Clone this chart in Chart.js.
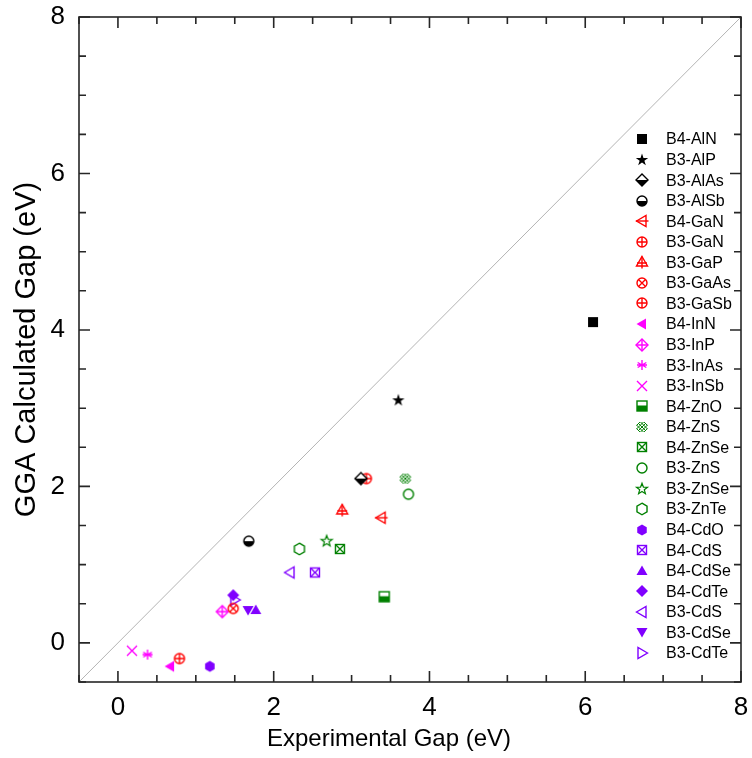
<!DOCTYPE html>
<html>
<head>
<meta charset="utf-8">
<script src="https://cdn.jsdelivr.net/npm/chart.js@4.4.0/dist/chart.umd.min.js"></script>
<style>
  html, body { margin: 0; padding: 0; background: #fff; }
</style>
</head>
<body>
<canvas id="gap-chart" width="752" height="758"></canvas>
<script>
// data
const compounds = ['B4-AlN', 'B3-AlP', 'B3-AlAs', 'B3-AlSb', 'B4-GaN', 'B3-GaN', 'B3-GaP', 'B3-GaAs', 'B3-GaSb',
  'B4-InN', 'B3-InP', 'B3-InAs', 'B3-InSb', 'B4-ZnO', 'B4-ZnS', 'B4-ZnSe', 'B3-ZnS', 'B3-ZnSe', 'B3-ZnTe',
  'B4-CdO', 'B4-CdS', 'B4-CdSe', 'B4-CdTe', 'B3-CdS', 'B3-CdSe', 'B3-CdTe']
const experimentalGap = [6.1, 3.6, 3.12, 1.68, 3.38, 3.19, 2.88, 1.48, 0.79,
  0.67, 1.34, 0.38, 0.18, 3.42, 3.69, 2.85, 3.73, 2.68, 2.33,
  1.18, 2.53, 1.77, 1.48, 2.21, 1.67, 1.5]
const ggaGap = [4.1, 3.1, 2.1, 1.3, 1.6, 2.1, 1.7, 0.44, -0.2,
  -0.3, 0.4, -0.15, -0.1, 0.59, 2.1, 1.2, 1.9, 1.3, 1.2,
  -0.3, 0.9, 0.42, 0.61, 0.9, 0.42, 0.55]
const diagonalLine = [-0.5, 8]
const majorTicks = [0, 2, 4, 6, 8]

// marker styles
const markerKinds = ['square', 'star', 'diamondHalf', 'circleHalf', 'triLeftLine', 'circlePlus', 'triUpPlus', 'circleX', 'circlePlus',
  'triLeft', 'diamondPlus', 'asterisk', 'cross', 'squareHalf', 'squareHatch', 'squareX', 'circleOpen', 'starOpen', 'hexOpen',
  'hex', 'squareX', 'triUp', 'diamond', 'triLeftOpen', 'triDown', 'triRightOpen']
const markerColors = ['#000000', '#000000', '#000000', '#000000', '#ff0000', '#ff0000', '#ff0000', '#ff0000', '#ff0000',
  '#ff00ff', '#ff00ff', '#ff00ff', '#ff00ff', '#008000', '#008000', '#008000', '#008000', '#008000', '#008000',
  '#8000ff', '#8000ff', '#8000ff', '#8000ff', '#8000ff', '#8000ff', '#8000ff']

function polyPath(g, pts) {
  g.beginPath()
  g.moveTo(pts[0][0], pts[0][1])
  for (let i = 1; i < pts.length; i++) g.lineTo(pts[i][0], pts[i][1])
  g.closePath()
}

function starPoints(ro, ri) {
  let pts = []
  for (let i = 0; i < 10; i++) {
    let a = -Math.PI / 2 + i * Math.PI / 5
    let rr = i % 2 === 0 ? ro : ri
    pts.push([rr * Math.cos(a), rr * Math.sin(a)])
  }
  return pts
}

function hexPoints(r) {
  let pts = []
  for (let i = 0; i < 6; i++) {
    let a = -Math.PI / 2 + i * Math.PI / 3
    pts.push([r * Math.cos(a), r * Math.sin(a)])
  }
  return pts
}

function makeMarker(kind, color) {
  const c = document.createElement('canvas')
  c.width = 16
  c.height = 16
  const g = c.getContext('2d')
  g.translate(8, 8)
  g.strokeStyle = color
  g.fillStyle = color
  g.lineWidth = 1.4
  const r = 5
  const tri = {
    up: [[0, -r - 0.5], [r + 0.5, r * 0.8], [-r - 0.5, r * 0.8]],
    down: [[0, r + 0.5], [r + 0.5, -r * 0.8], [-r - 0.5, -r * 0.8]],
    left: [[-r - 0.5, 0], [r * 0.8, -r - 0.5], [r * 0.8, r + 0.5]],
    right: [[r + 0.5, 0], [-r * 0.8, -r - 0.5], [-r * 0.8, r + 0.5]]
  }
  const dia = [[0, -r - 1], [r + 1, 0], [0, r + 1], [-r - 1, 0]]
  switch (kind) {
    case 'square':
      g.fillRect(-r, -r, 2 * r, 2 * r)
      break
    case 'star':
      polyPath(g, starPoints(r + 1.5, 2.5)); g.fill()
      break
    case 'starOpen':
      g.lineWidth = 1.2
      polyPath(g, starPoints(r + 0.8, 2.4)); g.stroke()
      break
    case 'diamond':
      polyPath(g, dia); g.fill()
      break
    case 'diamondHalf':
      polyPath(g, dia); g.fillStyle = '#fff'; g.fill()
      g.save(); g.clip(); g.fillStyle = color; g.fillRect(-8, 0, 16, 8); g.restore()
      polyPath(g, dia); g.stroke()
      break
    case 'diamondPlus':
      polyPath(g, dia); g.stroke()
      g.beginPath(); g.moveTo(0, -r - 1); g.lineTo(0, r + 1); g.moveTo(-r - 1, 0); g.lineTo(r + 1, 0); g.stroke()
      break
    case 'circleHalf':
      g.beginPath(); g.arc(0, 0, r, 0, Math.PI * 2); g.fillStyle = '#fff'; g.fill()
      g.beginPath(); g.arc(0, 0, r, 0, Math.PI); g.closePath(); g.fillStyle = color; g.fill()
      g.beginPath(); g.arc(0, 0, r, 0, Math.PI * 2); g.stroke()
      break
    case 'circleOpen':
      g.beginPath(); g.arc(0, 0, r, 0, Math.PI * 2); g.stroke()
      break
    case 'circlePlus':
      g.beginPath(); g.arc(0, 0, r, 0, Math.PI * 2); g.stroke()
      g.beginPath(); g.moveTo(0, -r); g.lineTo(0, r); g.moveTo(-r, 0); g.lineTo(r, 0); g.stroke()
      break
    case 'circleX':
      g.beginPath(); g.arc(0, 0, r, 0, Math.PI * 2); g.stroke()
      g.beginPath(); g.moveTo(-3.5, -3.5); g.lineTo(3.5, 3.5); g.moveTo(3.5, -3.5); g.lineTo(-3.5, 3.5); g.stroke()
      break
    case 'squareHalf':
      g.fillStyle = '#fff'; g.fillRect(-r, -r, 2 * r, 2 * r)
      g.fillStyle = color; g.fillRect(-r, -0.5, 2 * r, r + 0.5)
      g.strokeRect(-r, -r, 2 * r, 2 * r)
      break
    case 'squareX':
      g.strokeRect(-r + 0.5, -r + 0.5, 2 * r - 1, 2 * r - 1)
      g.beginPath(); g.moveTo(-r + 0.5, -r + 0.5); g.lineTo(r - 0.5, r - 0.5); g.moveTo(r - 0.5, -r + 0.5); g.lineTo(-r + 0.5, r - 0.5); g.stroke()
      break
    case 'squareHatch':
      g.lineWidth = 1
      g.beginPath()
      for (let k = -7; k <= 7; k += 3.5) {
        g.moveTo(-r + k, -r); g.lineTo(r + k, r)
        g.moveTo(r - k, -r); g.lineTo(-r - k, r)
      }
      g.save(); g.beginPath(); g.arc(0, 0, r + 0.8, 0, Math.PI * 2); g.clip()
      g.beginPath()
      for (let k = -7; k <= 7; k += 3.5) {
        g.moveTo(-r + k, -r); g.lineTo(r + k, r)
        g.moveTo(r - k, -r); g.lineTo(-r - k, r)
      }
      g.stroke(); g.restore()
      break
    case 'triUp':
      polyPath(g, tri.up); g.fill()
      break
    case 'triDown':
      polyPath(g, tri.down); g.fill()
      break
    case 'triLeft':
      polyPath(g, tri.left); g.fill()
      break
    case 'triLeftOpen':
      polyPath(g, tri.left); g.stroke()
      break
    case 'triRightOpen':
      polyPath(g, tri.right); g.stroke()
      break
    case 'triLeftLine':
      polyPath(g, tri.left); g.stroke()
      g.beginPath(); g.moveTo(-r - 1, 0); g.lineTo(r + 1.5, 0); g.stroke()
      break
    case 'triUpPlus':
      polyPath(g, tri.up); g.stroke()
      g.beginPath(); g.moveTo(0, -r - 0.5); g.lineTo(0, r + 1.5); g.moveTo(-r, 1); g.lineTo(r, 1); g.stroke()
      break
    case 'hex':
      polyPath(g, hexPoints(r + 0.5)); g.fill()
      break
    case 'hexOpen':
      polyPath(g, hexPoints(r + 0.8)); g.stroke()
      break
    case 'asterisk':
      g.beginPath()
      for (let i = 0; i < 3; i++) {
        let a = Math.PI / 2 + i * Math.PI / 3
        g.moveTo(-r * Math.cos(a), -r * Math.sin(a)); g.lineTo(r * Math.cos(a), r * Math.sin(a))
      }
      g.moveTo(-r, 0); g.lineTo(r, 0)
      g.stroke()
      break
    case 'cross':
      g.beginPath(); g.moveTo(-r, -r); g.lineTo(r, r); g.moveTo(r, -r); g.lineTo(-r, r); g.stroke()
      break
  }
  return c
}

const markers = markerKinds.map((k, i) => makeMarker(k, markerColors[i]))

const datasets = compounds.map((name, i) => ({
  type: 'scatter',
  label: name,
  data: [{ x: experimentalGap[i], y: ggaGap[i] }],
  pointStyle: markers[i],
  order: 0
}))

datasets.push({
  type: 'line',
  label: 'y = x',
  data: diagonalLine.map(v => ({ x: v, y: v })),
  borderColor: '#b4b4b4',
  borderWidth: 1,
  pointRadius: 0,
  fill: false,
  order: 1
})

// frame, inward ticks, legend and x title
const framePlugin = {
  id: 'frame',
  afterDraw(chart) {
    const ctx = chart.ctx
    const a = chart.chartArea
    const xs = chart.scales.x
    const ys = chart.scales.y
    ctx.save()
    ctx.strokeStyle = '#262626'
    ctx.lineWidth = 1.6
    ctx.strokeRect(a.left, a.top, a.right - a.left, a.bottom - a.top)
    ctx.beginPath()
    for (let v = -0.5; v <= 8; v += 0.5) {
      let len = majorTicks.includes(v) ? 11 : 7
      let px = xs.getPixelForValue(v)
      let py = ys.getPixelForValue(v)
      ctx.moveTo(px, a.bottom); ctx.lineTo(px, a.bottom - len)
      ctx.moveTo(px, a.top); ctx.lineTo(px, a.top + len)
      ctx.moveTo(a.left, py); ctx.lineTo(a.left + len, py)
      ctx.moveTo(a.right, py); ctx.lineTo(a.right - len, py)
    }
    ctx.stroke()

    // legend inside the plot
    ctx.fillStyle = '#000'
    ctx.font = '16px "Liberation Sans", Arial, sans-serif'
    ctx.textBaseline = 'middle'
    ctx.textAlign = 'left'
    compounds.forEach((name, i) => {
      let y = 139 + i * 20.56
      ctx.drawImage(markers[i], 642 - 8, Math.round(y) - 8)
      ctx.fillText(name, 666, y + 1)
    })

    // x axis title
    ctx.font = '24px "Liberation Sans", Arial, sans-serif'
    ctx.textAlign = 'center'
    ctx.fillText('Experimental Gap (eV)', 389, 739)
    ctx.restore()
  }
}

const tickFont = { family: '"Liberation Sans", Arial, sans-serif', size: 26 }

function noPadding(scale) {
  scale.paddingLeft = 0
  scale.paddingRight = 0
  scale.paddingTop = 0
  scale.paddingBottom = 0
}

const chartconfig = {
  data: { datasets: datasets },
  options: {
    responsive: false,
    animation: false,
    devicePixelRatio: 1,
    layout: {
      padding: { left: 0, right: 11, top: 17, bottom: 0 }
    },
    plugins: {
      legend: { display: false },
      tooltip: { enabled: false }
    },
    scales: {
      x: {
        type: 'linear',
        min: -0.5,
        max: 8,
        grid: { display: false, drawTicks: false },
        border: { display: false },
        afterFit: (scale) => { scale.height = 76; noPadding(scale) },
        ticks: {
          stepSize: 0.5,
          autoSkip: false,
          maxRotation: 0,
          padding: 10,
          color: '#000',
          font: tickFont,
          callback: function (value) {
            return majorTicks.includes(value) ? String(value) : ''
          }
        }
      },
      y: {
        type: 'linear',
        min: -0.5,
        max: 8,
        grid: { display: false, drawTicks: false },
        border: { display: false },
        afterFit: (scale) => { scale.width = 79; noPadding(scale) },
        title: {
          display: true,
          text: 'GGA Calculated Gap (eV)',
          color: '#000',
          font: { family: '"Liberation Sans", Arial, sans-serif', size: 29 },
          padding: { top: 10, bottom: 0 }
        },
        ticks: {
          stepSize: 0.5,
          autoSkip: false,
          padding: 14,
          color: '#000',
          font: tickFont,
          callback: function (value) {
            return majorTicks.includes(value) ? String(value) : ''
          }
        }
      }
    }
  },
  plugins: [framePlugin]
}

const chartElement = document.getElementById('gap-chart').getContext('2d')
const gapChart = new Chart(chartElement, chartconfig)
</script>
</body>
</html>
